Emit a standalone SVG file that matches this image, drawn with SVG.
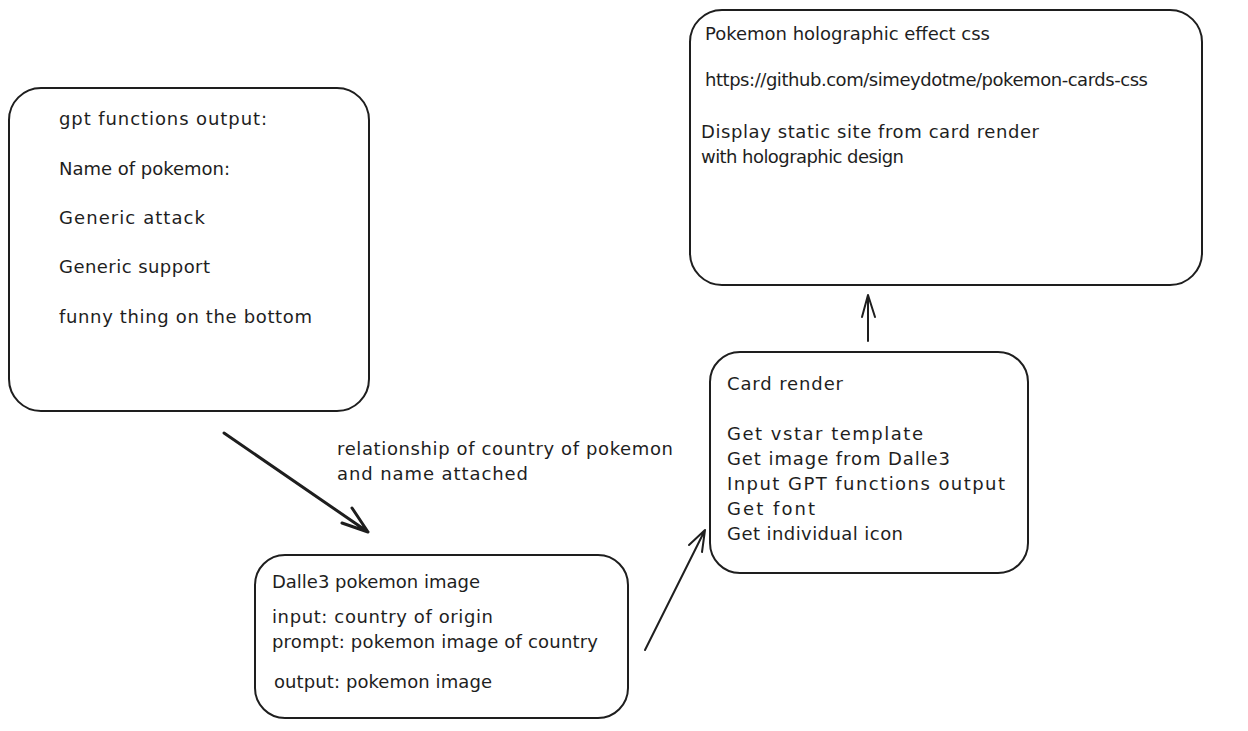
<svg xmlns="http://www.w3.org/2000/svg" width="1248" height="731" viewBox="0 0 1248 731">
<style>
.box{fill:#ffffff;stroke:#1e1e1e;stroke-width:2;}
.t{font-family:"DejaVu Sans","Liberation Sans",sans-serif;font-size:18px;fill:#1e1e1e;}
.c{fill:none;stroke:#1e1e1e;stroke-width:2;stroke-linecap:round;stroke-linejoin:round;}
</style>
<rect width="1248" height="731" fill="#ffffff"/>
<g id="gpt-output">
<rect class="box" x="9" y="88" width="360" height="323" rx="32"/>
<text class="t" x="59" y="125" textLength="208" lengthAdjust="spacing">gpt functions output:</text>
<text class="t" x="59" y="175" textLength="171" lengthAdjust="spacing">Name of pokemon:</text>
<text class="t" x="59" y="224" textLength="146" lengthAdjust="spacing">Generic attack</text>
<text class="t" x="59" y="273" textLength="151" lengthAdjust="spacing">Generic support</text>
<text class="t" x="59" y="323" textLength="253" lengthAdjust="spacing">funny thing on the bottom</text>
</g>
<g id="holographic">
<rect class="box" x="690" y="10" width="512" height="275" rx="32"/>
<text class="t" x="705" y="40" textLength="285" lengthAdjust="spacing">Pokemon holographic effect css</text>
<text class="t" x="705" y="86" textLength="443" lengthAdjust="spacing">https://github.com/simeydotme/pokemon-cards-css</text>
<text class="t" x="701" y="138" textLength="338" lengthAdjust="spacing">Display static site from card render</text>
<text class="t" x="701" y="163" textLength="203" lengthAdjust="spacing">with holographic design</text>
</g>
<g id="card-render">
<rect class="box" x="710" y="352" width="318" height="221" rx="30"/>
<text class="t" x="727" y="390" textLength="116" lengthAdjust="spacing">Card render</text>
<text class="t" x="727" y="440" textLength="196" lengthAdjust="spacing">Get vstar template</text>
<text class="t" x="727" y="465" textLength="223" lengthAdjust="spacing">Get image from Dalle3</text>
<text class="t" x="727" y="490" textLength="278" lengthAdjust="spacing">Input GPT functions output</text>
<text class="t" x="727" y="515" textLength="88" lengthAdjust="spacing">Get font</text>
<text class="t" x="727" y="540" textLength="176" lengthAdjust="spacing">Get individual icon</text>
</g>
<g id="dalle3">
<rect class="box" x="255" y="555" width="373" height="163" rx="30"/>
<text class="t" x="272" y="588" textLength="208" lengthAdjust="spacing">Dalle3 pokemon image</text>
<text class="t" x="272" y="623" textLength="221" lengthAdjust="spacing">input: country of origin</text>
<text class="t" x="272" y="648" textLength="326" lengthAdjust="spacing">prompt: pokemon image of country</text>
<text class="t" x="274" y="688" textLength="218" lengthAdjust="spacing">output: pokemon image</text>
</g>
<g id="label-relationship">
<text class="t" x="337" y="455" textLength="336" lengthAdjust="spacing">relationship of country of pokemon</text>
<text class="t" x="337" y="480" textLength="191" lengthAdjust="spacing">and name attached</text>
</g>
<g id="connectors">
<path class="c" style="stroke-width:3" d="M224 433 L368 532 M352 508 L368 532 L342 523"/>
<path class="c" d="M645 650 L705 530 M689 545 L705 530 L702 552"/>
<path class="c" d="M868 341 L868 295 M862 317 L868 295 L875 317"/>
</g>
</svg>
